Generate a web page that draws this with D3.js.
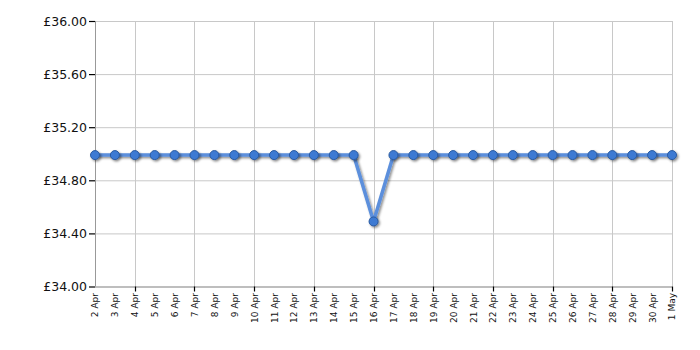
<!DOCTYPE html>
<html><head><meta charset="utf-8">
<script src="https://cdn.jsdelivr.net/npm/d3@7"></script>
<style>body{margin:0;background:#fff}svg{display:block}</style>
</head><body>
<svg id="c" width="700" height="350"></svg>
<script>
const dates = ["2 Apr","3 Apr","4 Apr","5 Apr","6 Apr","7 Apr","8 Apr","9 Apr","10 Apr","11 Apr","12 Apr","13 Apr","14 Apr","15 Apr","16 Apr","17 Apr","18 Apr","19 Apr","20 Apr","21 Apr","22 Apr","23 Apr","24 Apr","25 Apr","26 Apr","27 Apr","28 Apr","29 Apr","30 Apr","1 May"];
const prices = [34.99,34.99,34.99,34.99,34.99,34.99,34.99,34.99,34.99,34.99,34.99,34.99,34.99,34.99,34.49,34.99,34.99,34.99,34.99,34.99,34.99,34.99,34.99,34.99,34.99,34.99,34.99,34.99,34.99,34.99];
const yTicks = [34.00,34.40,34.80,35.20,35.60,36.00];
const gridDates = ["4 Apr","7 Apr","10 Apr","13 Apr","16 Apr","19 Apr","22 Apr","25 Apr","28 Apr","1 May"];

const svg = d3.select("#c");
const L=95, R=672, T=21, B=286.5;
const x = d3.scalePoint().domain(dates).range([L,R]);
const y = d3.scaleLinear().domain([34,36]).range([B,T]);

const defs = svg.append("defs");
const f = defs.append("filter").attr("id","sh").attr("x","-20%").attr("y","-20%").attr("width","140%").attr("height","140%");
f.append("feDropShadow").attr("dx",1.5).attr("dy",1.5).attr("stdDeviation",1).attr("flood-color","#000").attr("flood-opacity",0.45);

// grid
svg.append("g").selectAll("line").data(yTicks).join("line")
  .attr("x1",L).attr("x2",R).attr("y1",d=>y(d)+0.5).attr("y2",d=>y(d)+0.5)
  .attr("stroke","#c8c8c8").attr("stroke-width",1);
svg.append("g").selectAll("line").data(gridDates).join("line")
  .attr("x1",d=>Math.round(x(d))+0.5).attr("x2",d=>Math.round(x(d))+0.5).attr("y1",T).attr("y2",B)
  .attr("stroke","#c8c8c8").attr("stroke-width",1);

// y axis
const ya = svg.append("g").attr("transform",`translate(${L},0)`)
  .call(d3.axisLeft(y).tickValues(yTicks).tickSize(6).tickPadding(2).tickFormat(d=>"£"+d3.format(".2f")(d)));
ya.select(".domain").attr("stroke","#999").attr("d",`M0.5,${T}V${B}`);
ya.selectAll(".tick line").attr("stroke","#000").attr("stroke-width",1.2);
ya.selectAll("text").attr("font-family","DejaVu Sans, Verdana, sans-serif").attr("font-size",12.5).attr("fill","#111");

// x axis
const xa = svg.append("g").attr("transform",`translate(0,${B})`)
  .call(d3.axisBottom(x).tickSize(0).tickPadding(0));
xa.select(".domain").attr("stroke","#999").attr("d",`M${L},0.5H${R}`);
xa.selectAll(".tick line").remove();
xa.selectAll("text")
  .attr("font-family","DejaVu Sans, Verdana, sans-serif").attr("font-size",9).attr("fill","#111")
  .attr("transform","rotate(-90)").attr("text-anchor","end").attr("x",-6.5).attr("y",0).attr("dy","0.33em");
svg.append("g").selectAll("line").data(gridDates).join("line")
  .attr("x1",d=>Math.round(x(d))+0.5).attr("x2",d=>Math.round(x(d))+0.5).attr("y1",B).attr("y2",B+5)
  .attr("stroke","#000").attr("stroke-width",1.2);

// line
const line = d3.line().x((d,i)=>x(dates[i])).y(d=>y(d));
svg.append("path").datum(prices).attr("d",line).attr("fill","none")
  .attr("stroke","#5b8fdc").attr("stroke-width",3.5).attr("stroke-linejoin","round").attr("filter","url(#sh)");
svg.append("g").attr("filter","url(#sh)").selectAll("circle").data(prices).join("circle")
  .attr("cx",(d,i)=>x(dates[i])).attr("cy",d=>y(d)).attr("r",4.5)
  .attr("fill","#3d7ad3").attr("stroke","#2a5aa0").attr("stroke-width",1);
</script>
</body></html>
